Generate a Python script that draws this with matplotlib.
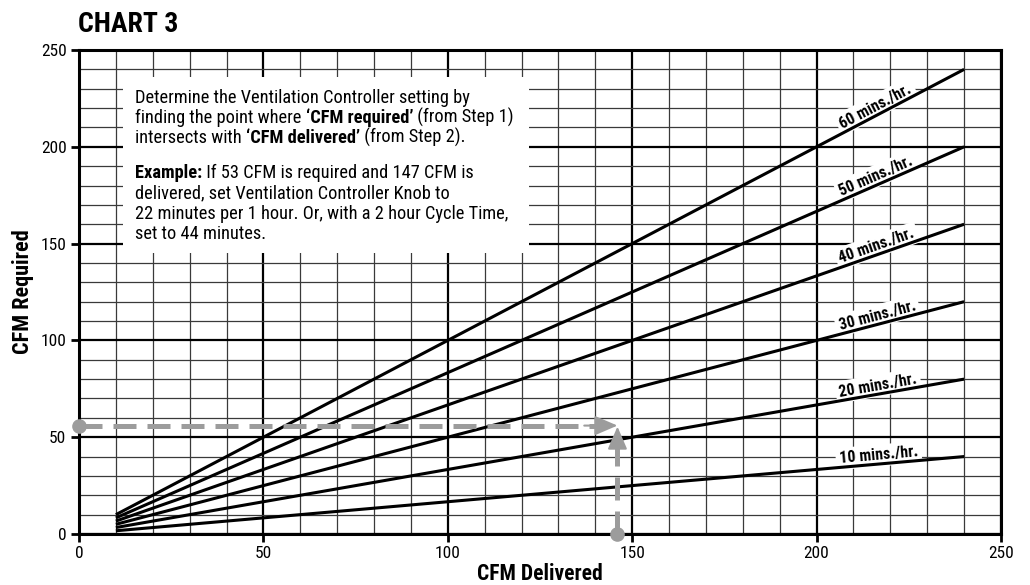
from matplotlib import pyplot as plt
from matplotlib import font_manager
import numpy as np

# Données du graphique
minutes = [10, 20, 30, 40, 50, 60]          # mins./hr.
cfm_start = 10
cfm_end = 240
ex_delivered = 146
ex_required = 56

xticks = [0, 50, 100, 150, 200, 250]
yticks = [0, 50, 100, 150, 200, 250]

para1 = [
    [("Determine the Ventilation Controller setting by", "normal")],
    [("finding the point where ", "normal"), ("\u2018CFM required\u2019", "bold"), (" (from Step 1)", "normal")],
    [("intersects with ", "normal"), ("\u2018CFM delivered\u2019", "bold"), (" (from Step 2).", "normal")],
]
para2 = [
    [("Example:", "bold"), (" If 53 CFM is required and 147 CFM is", "normal")],
    [("delivered, set Ventilation Controller Knob to", "normal")],
    [("22 minutes per 1 hour. Or, with a 2 hour Cycle Time,", "normal")],
    [("set to 44 minutes.", "normal")],
]

# Police étroite : on prend la première disponible
names = {f.name for f in font_manager.fontManager.ttflist}
stretch = 'normal'
FONT = 'DejaVu Sans'
for cand in ['Roboto Condensed', 'Liberation Sans Narrow', 'Open Sans Condensed']:
    if cand in names:
        FONT = cand
        break
else:
    if any(f.name == 'DejaVu Sans' and f.stretch == 'condensed'
           for f in font_manager.fontManager.ttflist):
        stretch = 'condensed'
plt.rcParams['font.family'] = [FONT, 'DejaVu Sans']
plt.rcParams['font.stretch'] = stretch
gray = '#9c9c9c'

fig = plt.figure(figsize=(10.3, 5.85), dpi=100)
ax = fig.add_axes([79 / 1030, 51 / 585, 922 / 1030, 484 / 585])

ax.set_xlim(0, 250)
ax.set_ylim(0, 250)
ax.set_xticks(xticks)
ax.set_yticks(yticks)
ax.set_xticks(np.arange(0, 251, 10), minor=True)
ax.set_yticks(np.arange(0, 251, 10), minor=True)
ax.set_axisbelow(True)
ax.grid(which='minor', color='#3a3a3a', lw=0.9)
ax.grid(which='major', color='black', lw=1.6)
ax.tick_params(which='minor', length=0)
ax.tick_params(which='major', length=6, width=2, labelsize=12.5, pad=3)
for s in ax.spines.values():
    s.set_linewidth(2.2)

# Droites mins./hr.
x = np.array([cfm_start, cfm_end])
for m in minutes:
    k = m / 60
    ax.plot(x, k * x, color='black', lw=2.2, zorder=3, solid_capstyle='butt')
    xl = 217
    ax.text(xl, k * xl + 0.5, f"{m} mins./hr.", fontsize=11.5, weight='bold',
            rotation=np.degrees(np.arctan(k)), transform_rotates_text=True,
            rotation_mode='anchor', ha='center', va='bottom', zorder=2.5,
            bbox=dict(facecolor='white', edgecolor='none', pad=2.5))

# Encadré de texte
ax.add_patch(plt.Rectangle((12, 145), 110, 91, facecolor='white',
                           edgecolor='none', zorder=1))


def rich_line(parts, yfrac):
    t = ax.text(56 / 922, yfrac, parts[0][0], weight=parts[0][1], fontsize=13.2,
                transform=ax.transAxes, va='baseline', zorder=2)
    for s, w in parts[1:]:
        t = ax.annotate(s, xy=(1, 0), xycoords=t, va='bottom', ha='left',
                        weight=w, fontsize=13.2, zorder=2)


base = [103, 123, 143, 178, 198, 219, 239]   # lignes de base (px)
for i, parts in enumerate(para1 + para2):
    rich_line(parts, (534 - base[i]) / 484)

# Exemple : flèches en pointillé
dash = dict(color=gray, lw=3.6, dashes=(4.6, 2.2), zorder=4,
            solid_capstyle='butt', dash_capstyle='butt')
ax.plot([0, ex_delivered - 4], [ex_required, ex_required], **dash)
ax.plot([ex_delivered, ex_delivered], [0, ex_required - 7], **dash)
ax.plot([0], [ex_required], 'o', color=gray, ms=9.5, zorder=5, clip_on=False)
ax.plot([ex_delivered], [0], 'o', color=gray, ms=9.5, zorder=5, clip_on=False)
arrow = dict(arrowstyle='-|>,head_length=0.7,head_width=0.3', color=gray,
             lw=1.5, shrinkA=0, shrinkB=0, mutation_scale=20)
ax.annotate('', xy=(ex_delivered, ex_required), xytext=(ex_delivered - 9, ex_required),
            arrowprops=arrow, zorder=5)
ax.annotate('', xy=(ex_delivered, ex_required - 0.5), xytext=(ex_delivered, ex_required - 16),
            arrowprops=arrow, zorder=5)

ax.set_ylabel("CFM Required", fontsize=16, weight='bold', labelpad=5)
fig.text(ax.get_position().x0 + ax.get_position().width / 2, 1 - 580 / 585,
         "CFM Delivered", fontsize=15.5, weight='bold', ha='center', va='baseline')
fig.text(78 / 1030, 1 - 32 / 585, "CHART 3", fontsize=20, weight='bold', va='baseline')

fig.savefig('out.png', dpi=100)
